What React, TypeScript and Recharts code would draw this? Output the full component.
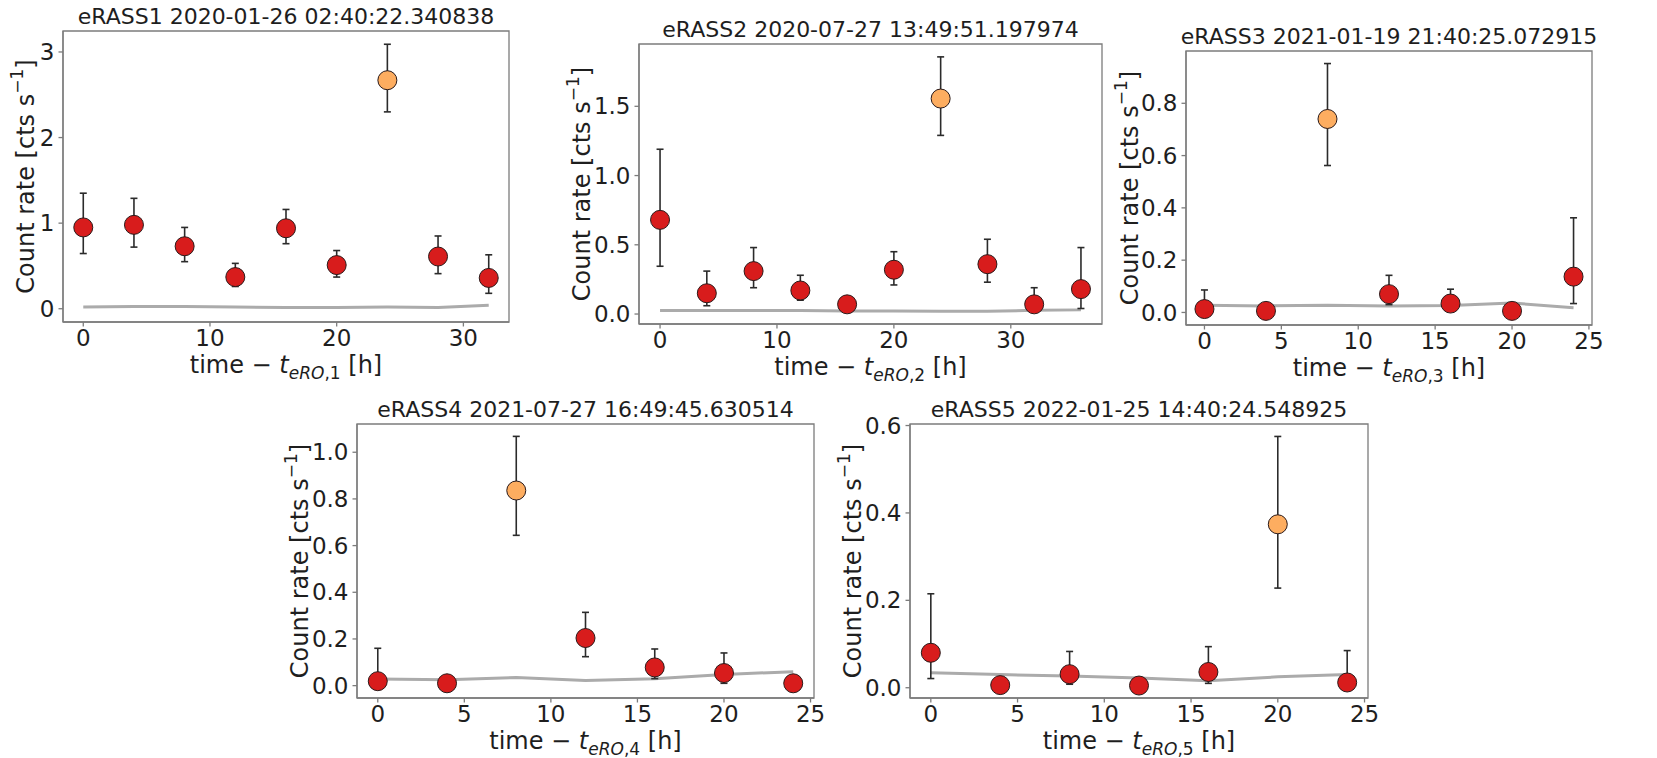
import React from 'react';
import { ComposedChart, Scatter, Line, XAxis, YAxis, ErrorBar, ReferenceArea } from 'recharts';

const FONT = '"DejaVu Sans", sans-serif';
const RED = '#d81c1c';
const ORANGE = '#fdad60';
const FRAME = '#7c7c7c';
const INK = '#1e1e1e';
const BKG_LINE = '#ababab';

const titles = [
  'eRASS1 2020-01-26 02:40:22.340838',
  'eRASS2 2020-07-27 13:49:51.197974',
  'eRASS3 2021-01-19 21:40:25.072915',
  'eRASS4 2021-07-27 16:49:45.630514',
  'eRASS5 2022-01-25 14:40:24.548925',
];

// eRASS1
const hours1 = [0, 4, 8, 12, 16, 20, 24, 28, 32];
const rate1 = [0.95, 0.98, 0.73, 0.37, 0.94, 0.51, 2.67, 0.61, 0.36];
const upper1 = [1.35, 1.29, 0.95, 0.53, 1.16, 0.68, 3.09, 0.85, 0.63];
const lower1 = [0.645, 0.72, 0.55, 0.26, 0.76, 0.37, 2.3, 0.41, 0.18];
const bkg1 = [0.02, 0.025, 0.025, 0.02, 0.015, 0.015, 0.02, 0.015, 0.04];
const flare1 = 24;

// eRASS2
const hours2 = [0, 4, 8, 12, 16, 20, 24, 28, 32, 36];
const rate2 = [0.68, 0.15, 0.31, 0.17, 0.07, 0.32, 1.556, 0.36, 0.07, 0.18];
const upper2 = [1.19, 0.31, 0.48, 0.28, 0.11, 0.45, 1.857, 0.54, 0.19, 0.48];
const lower2 = [0.345, 0.06, 0.19, 0.1, 0.03, 0.21, 1.29, 0.23, 0.03, 0.04];
const bkg2 = [0.025, 0.025, 0.025, 0.025, 0.022, 0.022, 0.02, 0.02, 0.027, 0.03];
const flare2 = 24;

// eRASS3
const hours3 = [0, 4, 8, 12, 16, 20, 24];
const rate3 = [0.013, 0.006, 0.74, 0.07, 0.034, 0.006, 0.137];
const upper3 = [0.086, 0.02, 0.952, 0.142, 0.089, 0.02, 0.362];
const lower3 = [0, 0, 0.562, 0.03, 0.01, 0, 0.034];
const bkg3 = [0.028, 0.025, 0.028, 0.025, 0.027, 0.036, 0.018];
const flare3 = 8;

// eRASS4
const hours4 = [0, 4, 8, 12, 16, 20, 24];
const rate4 = [0.019, 0.01, 0.836, 0.204, 0.078, 0.054, 0.01];
const upper4 = [0.16, 0.02, 1.068, 0.314, 0.157, 0.14, 0.03];
const lower4 = [0, 0, 0.644, 0.124, 0.03, 0.01, 0];
const bkg4 = [0.028, 0.025, 0.035, 0.022, 0.03, 0.048, 0.06];
const flare4 = 8;

// eRASS5
const hours5 = [0, 4, 8, 12, 16, 20, 24];
const rate5 = [0.08, 0.006, 0.031, 0.005, 0.036, 0.374, 0.012];
const upper5 = [0.215, 0.02, 0.083, 0.015, 0.094, 0.575, 0.085];
const lower5 = [0.021, 0, 0.008, 0, 0.01, 0.228, 0];
const bkg5 = [0.034, 0.03, 0.027, 0.022, 0.016, 0.025, 0.03];
const flare5 = 20;

const xTicksA = [0, 10, 20, 30];
const xTicksB = [0, 5, 10, 15, 20, 25];
const yTicks1 = [0, 1, 2, 3];
const yTicks2 = [0, 0.5, 1.0, 1.5];
const yTicks3 = [0, 0.2, 0.4, 0.6, 0.8];
const yTicks4 = [0, 0.2, 0.4, 0.6, 0.8, 1.0];
const yTicks5 = [0, 0.2, 0.4, 0.6];

const panels = [
  { n: 1, hours: hours1, rate: rate1, upper: upper1, lower: lower1, bkg: bkg1, flare: flare1,
    xTicks: xTicksA, yTicks: yTicks1, xDomain: [-1.6, 33.6], yDomain: [-0.155, 3.245], digits: 0,
    box: { l: 63, t: 31, r: 509, b: 322 }, gap: 37 },
  { n: 2, hours: hours2, rate: rate2, upper: upper2, lower: lower2, bkg: bkg2, flare: flare2,
    xTicks: xTicksA, yTicks: yTicks2, xDomain: [-1.8, 37.8], yDomain: [-0.072, 1.95], digits: 1,
    box: { l: 639, t: 44, r: 1102, b: 324 }, gap: 57 },
  { n: 3, hours: hours3, rate: rate3, upper: upper3, lower: lower3, bkg: bkg3, flare: flare3,
    xTicks: xTicksB, yTicks: yTicks3, xDomain: [-1.2, 25.2], yDomain: [-0.048, 1.0], digits: 1,
    box: { l: 1186, t: 51, r: 1592, b: 325 }, gap: 56 },
  { n: 4, hours: hours4, rate: rate4, upper: upper4, lower: lower4, bkg: bkg4, flare: flare4,
    xTicks: xTicksB, yTicks: yTicks4, xDomain: [-1.2, 25.2], yDomain: [-0.053, 1.121], digits: 1,
    box: { l: 357, t: 424, r: 814, b: 698 }, gap: 57 },
  { n: 5, hours: hours5, rate: rate5, upper: upper5, lower: lower5, bkg: bkg5, flare: flare5,
    xTicks: xTicksB, yTicks: yTicks5, xDomain: [-1.2, 25.2], yDomain: [-0.0235, 0.6035], digits: 1,
    box: { l: 910, t: 424, r: 1368, b: 698 }, gap: 57 },
];

const AXIS_W = 92;
const AXIS_H = 64;
const TOP = 34;
const RIGHT = 22;

const marker = (props: any) => {
  const { cx, cy, payload } = props;
  if (cx == null || cy == null) return null;
  return <circle cx={cx} cy={cy} r={9.5} fill={payload.flare ? ORANGE : RED} stroke="#2a1a1a" strokeWidth={1} />;
};

function Panel({ p }: { p: any }) {
  const plotW = p.box.r - p.box.l;
  const plotH = p.box.b - p.box.t;
  const data = p.hours.map((t: number, i: number) => ({
    t,
    rate: p.rate[i],
    bkg: p.bkg[i],
    err: [p.rate[i] - p.lower[i], p.upper[i] - p.rate[i]],
    flare: t === p.flare,
  }));
  const tickStyle = { fontSize: 23, fill: INK, fontFamily: FONT };

  // x label and title share one label group
  const xLabel = () => (
    <g>
      <text x={AXIS_W + plotW / 2} y={TOP - 7} textAnchor="middle" fontSize={22} fill={INK} fontFamily={FONT}>
        {titles[p.n - 1]}
      </text>
      <text x={AXIS_W + plotW / 2} y={TOP + plotH + 51} textAnchor="middle" fontSize={24} fill={INK} fontFamily={FONT}>
        <tspan>time − </tspan>
        <tspan fontStyle="italic">t</tspan>
        <tspan dy={6} fontSize={17} fontStyle="italic">eRO</tspan>
        <tspan fontSize={17}>,{p.n}</tspan>
        <tspan dy={-6}> [h]</tspan>
      </text>
    </g>
  );
  const yLabel = () => {
    const cx = AXIS_W - p.gap;
    const cy = TOP + plotH / 2;
    return (
      <text x={cx} y={cy} transform={`rotate(-90 ${cx} ${cy})`} textAnchor="middle" dominantBaseline="central"
        fontSize={24} fill={INK} fontFamily={FONT}>
        Count rate [cts s<tspan dy={-9} fontSize={17}>−1</tspan><tspan dy={9}>]</tspan>
      </text>
    );
  };

  return (
    <div style={{ position: 'absolute', left: p.box.l - AXIS_W, top: p.box.t - TOP }}>
      <ComposedChart width={AXIS_W + plotW + RIGHT} height={TOP + plotH + AXIS_H} data={data}
        margin={{ top: TOP, right: RIGHT, bottom: 0, left: 0 }}>
        <XAxis dataKey="t" type="number" domain={p.xDomain} ticks={p.xTicks} allowDataOverflow
          height={AXIS_H} tick={tickStyle} tickSize={4.5} tickMargin={3}
          axisLine={{ stroke: FRAME, strokeWidth: 1.3 }} tickLine={{ stroke: FRAME, strokeWidth: 1.3 }}
          label={xLabel} />
        <YAxis type="number" domain={p.yDomain} ticks={p.yTicks} allowDataOverflow width={AXIS_W}
          tick={tickStyle} tickSize={4.5} tickMargin={4} tickFormatter={(v: number) => v.toFixed(p.digits)}
          axisLine={{ stroke: FRAME, strokeWidth: 1.3 }} tickLine={{ stroke: FRAME, strokeWidth: 1.3 }}
          label={yLabel} />
        <Line dataKey="bkg" type="linear" stroke={BKG_LINE} strokeWidth={3} dot={false} activeDot={false}
          isAnimationActive={false} />
        <Scatter dataKey="rate" shape={marker} isAnimationActive={false}>
          <ErrorBar dataKey="err" direction="y" width={3.5} stroke="#2b2b2b" strokeWidth={1.6} />
        </Scatter>
        <ReferenceArea x1={p.xDomain[0]} x2={p.xDomain[1]} y1={p.yDomain[0]} y2={p.yDomain[1]}
          fill="none" fillOpacity={0} stroke={FRAME} strokeWidth={1.3} ifOverflow="visible" />
      </ComposedChart>
    </div>
  );
}

export default function App() {
  return (
    <div style={{ position: 'absolute', left: 0, top: 0, width: 1657, height: 758, background: '#fff', fontFamily: FONT }}>
      {panels.map((p) => (
        <Panel key={p.n} p={p} />
      ))}
    </div>
  );
}
